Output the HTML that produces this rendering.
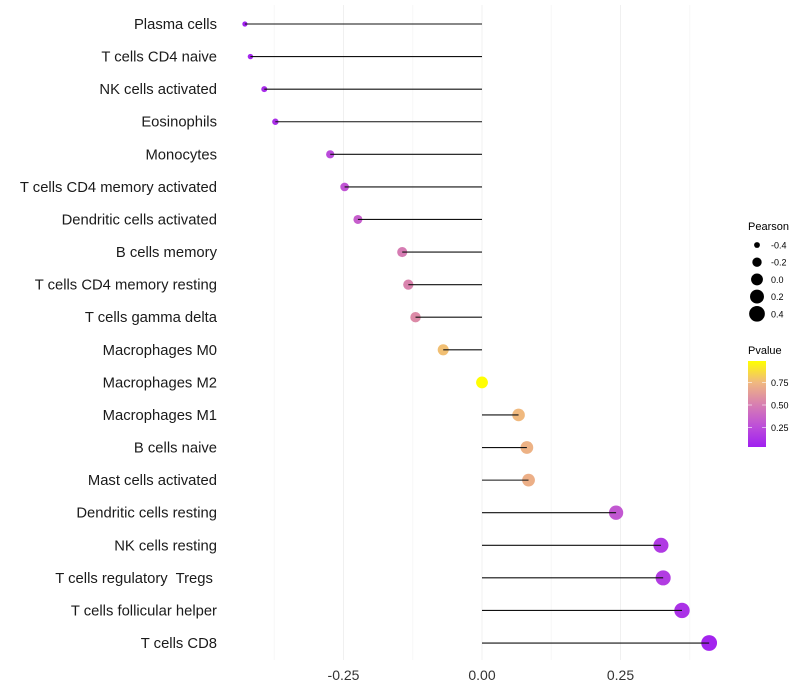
<!DOCTYPE html>
<html><head><meta charset="utf-8"><style>
body{margin:0;background:#fff;}
svg{display:block;font-family:"Liberation Sans",sans-serif;}
text{white-space:pre;}
</style></head><body>
<svg id="chart" width="800" height="700">
<defs>
<linearGradient id="pg" x1="0" y1="1" x2="0" y2="0">
<stop offset="0" stop-color="#A020F0"/><stop offset="0.25" stop-color="#BE50D8"/>
<stop offset="0.5" stop-color="#D880B0"/><stop offset="0.75" stop-color="#F0B880"/>
<stop offset="1" stop-color="#FFFF00"/></linearGradient>
</defs>
<g id="grid"></g><g id="marks"></g><g id="labels"></g>
<g font-size="10">
<text x="748" y="230" font-size="11">Pearson</text>
<g id="sizeleg"></g>
</g>
<g font-size="10">
<text x="748" y="354" font-size="11">Pvalue</text>
<rect x="748" y="361" width="18" height="86" fill="url(#pg)"/>
<g id="colleg"></g>
</g>
</svg>
<script>
const categories=["Plasma cells","T cells CD4 naive","NK cells activated","Eosinophils","Monocytes","T cells CD4 memory activated","Dendritic cells activated","B cells memory","T cells CD4 memory resting","T cells gamma delta","Macrophages M0","Macrophages M2","Macrophages M1","B cells naive","Mast cells activated","Dendritic cells resting","NK cells resting","T cells regulatory  Tregs ","T cells follicular helper","T cells CD8"];
const pearson=[-0.428,-0.418,-0.393,-0.373,-0.274,-0.248,-0.224,-0.144,-0.133,-0.120,-0.070,0.0,0.066,0.081,0.084,0.242,0.323,0.327,0.361,0.410];
const pvalue=[0.05,0.07,0.1,0.12,0.25,0.3,0.35,0.5,0.53,0.56,0.78,0.99,0.76,0.73,0.72,0.32,0.17,0.18,0.13,0.06];
const xTicks=[-0.25,0,0.25];
const xTickLabels=["-0.25","0.00","0.25"];
const sizeLegend=[-0.4,-0.2,0.0,0.2,0.4];
const colorTicks=[0.25,0.5,0.75];
const NS="http://www.w3.org/2000/svg";
const X=v=>482+v*554;
const Y=i=>24+i*32.58;
const R=v=>1.12*Math.sqrt(Math.max(3,28+53*v));
const stops=[[0,[160,32,240]],[0.25,[190,80,216]],[0.5,[216,128,176]],[0.75,[240,184,128]],[1,[255,255,0]]];
function col(p){let t=(p-0.04)/(0.995-0.04);t=Math.max(0,Math.min(1,t));
for(let k=1;k<stops.length;k++){if(t<=stops[k][0]){const a=stops[k-1],b=stops[k],f=(t-a[0])/(b[0]-a[0]);
return "rgb("+a[1].map((c,j)=>Math.round(c+(b[1][j]-c)*f)).join(",")+")";}}return "rgb(255,255,0)";}
function mk(tag,at,parent){const e=document.createElementNS(NS,tag);for(const k in at)e.setAttribute(k,at[k]);parent.appendChild(e);return e;}
const grid=document.getElementById("grid"),marks=document.getElementById("marks"),labels=document.getElementById("labels");
[-0.375,-0.125,0.125,0.375].forEach(v=>{const l=mk("line",{x1:X(v),x2:X(v),y1:5,y2:660,stroke:"#f7f7f7","stroke-width":1},grid);

});
xTicks.forEach((v,i)=>{const l=mk("line",{x1:X(v),x2:X(v),y1:5,y2:660,stroke:"#f0f0f0","stroke-width":1},grid);


const t=mk("text",{x:X(v),y:680,"text-anchor":"middle","font-size":14,fill:"#333"},labels);t.textContent=xTickLabels[i];

});
categories.forEach((c,i)=>{const y=Y(i);
const t=mk("text",{x:217,y:y+5,"text-anchor":"end","font-size":14.8,fill:"#1a1a1a"},labels);t.textContent=c;


const p=mk("circle",{cx:X(pearson[i]),cy:y,r:R(pearson[i]),fill:col(pvalue[i])},marks);


const l=mk("line",{x1:X(0),x2:X(pearson[i]),y1:y,y2:y,stroke:"#111","stroke-width":1.1},marks);

});
const sl=document.getElementById("sizeleg");
sizeLegend.forEach((v,i)=>{const y=245+i*17.2;
const c=mk("circle",{cx:757,cy:y,r:R(v),fill:"#000"},sl);


const t=mk("text",{x:771,y:y+3.5,"font-size":9},sl);t.textContent=v.toFixed(1);

});
const cl=document.getElementById("colleg");
colorTicks.forEach(v=>{const y=405-(v-0.5)*90;
mk("line",{x1:748,x2:752,y1:y,y2:y,stroke:"#fff","stroke-width":0.6},cl);
mk("line",{x1:762,x2:766,y1:y,y2:y,stroke:"#fff","stroke-width":0.6},cl);
const t=mk("text",{x:771,y:y+3.5,"font-size":9},cl);t.textContent=v.toFixed(2);

});
</script>
</body></html>
